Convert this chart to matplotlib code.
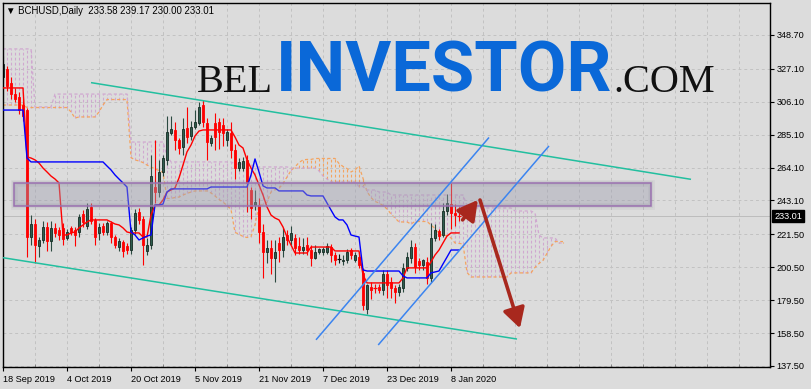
import matplotlib
matplotlib.use("Agg")
import matplotlib.pyplot as plt
import matplotlib.transforms as mtransforms
from matplotlib.patches import Rectangle

# ---------------- data (daily BCHUSD bars, 18 Sep 2019 .. 10 Jan 2020) ----------------
opens = [322, 327, 318, 311, 309, 304, 301, 220, 228, 214,
         218, 226, 217, 225.6, 224, 225.6, 219.2, 225.6, 224.3, 223,
         234.5, 226.8, 239, 230.7, 222.4, 227, 223, 228.7, 219.8, 213.5,
         216.6, 214, 211.5, 224, 235.5, 231, 211, 215, 251.7, 248.5,
         261, 269, 286, 288, 281.7, 277, 289.3, 284, 290, 292.6,
         304, 292.6, 280, 292.6, 293.2, 291.3, 281.7, 286.2, 275.3, 264,
         264, 269, 249.8, 240, 240.2, 223, 210.2, 212.8, 206.4, 216,
         211.5, 221, 218, 219.2, 214, 211.5, 214.7, 211.5, 206.4, 210.2,
         210, 210.2, 213.4, 208.3, 206, 204.5, 205.1, 211.5, 205.1, 207,
         196.6, 174, 188, 187.5, 188, 186, 196.2, 191, 187.5, 184.7,
         187.5, 200, 206.4, 213.4, 204.5, 201.9, 203.8, 193.7, 219.2, 223.6,
         221.1, 236.4, 240.9, 235, 233.58]
highs = [335, 329, 322, 315, 312, 308, 302, 234, 231, 220,
         230, 229.5, 230, 228.7, 226, 228.7, 225, 227, 226, 234.6,
         237, 241.8, 241.8, 232, 228.7, 229, 230, 230, 221, 219,
         218, 216, 226, 237.5, 238, 233, 219, 272, 282, 269,
         272, 297, 297, 293, 283, 296, 303, 294, 301, 306,
         307, 296, 285, 299, 296, 296, 289, 293, 279, 270,
         271, 272, 252, 250, 245, 228, 218, 218, 218, 220,
         225.6, 224, 227, 222, 220, 219, 220, 214.7, 214.7, 213,
         213.5, 216, 215.3, 210, 209, 208, 212, 213, 210, 210,
         200, 190, 191, 190, 190, 199, 199, 194, 189, 190,
         203, 210, 218, 216, 206.5, 206, 207, 228.7, 228, 225,
         241.2, 247, 254.3, 241, 239.17]
lows = [318, 313, 308, 306, 298, 294, 207, 215, 203, 207,
        216, 211, 211, 219.8, 218, 215, 218, 221, 214, 220,
        226, 225, 228, 215, 218, 221, 221, 216, 212.5, 211,
        207, 209, 209, 222, 228, 202, 208, 212, 241.5, 245.3,
        259, 266, 285, 275, 273, 272, 280, 282, 289, 291,
        290, 269, 278, 275, 276, 278, 278, 270, 257, 262,
        262, 236, 231, 237, 216, 193.4, 203, 196, 190.9, 204,
        207, 215, 215, 208, 209, 209, 208, 201, 206, 209,
        208.5, 209, 204, 202, 203, 202, 203, 206, 204, 200,
        173, 170.6, 180, 184, 184, 183, 181, 181, 178, 182,
        185, 198, 203, 197, 199, 199, 189.6, 190.9, 217, 218,
        220, 234, 225, 227, 230.00]
closes = [330, 316, 311, 308, 301, 297, 220, 228, 215, 218,
          226, 217, 225.6, 222.4, 221, 218.6, 223, 223, 221.1, 232.6,
          229.4, 237.7, 230, 219.8, 226.2, 223, 228.7, 219.8, 214.7, 217.5,
          211, 211.5, 224, 235, 230.5, 215, 215, 259, 248.5, 261.3,
          270.2, 286.8, 288.7, 281.7, 276.6, 288.7, 283.6, 290, 293.2, 302.8,
          293.2, 280.4, 283, 283.6, 286.8, 286.2, 286.8, 275.3, 264, 267.7,
          268.3, 254.3, 238.3, 242, 223, 210.2, 212.8, 206.4, 210.2, 211.5,
          219.8, 218, 222.4, 212.8, 211.5, 213.4, 211.5, 206.4, 210.2, 212.2,
          212, 214, 208.3, 205.1, 206, 205.2, 210.2, 208.3, 208.3, 202,
          176.2, 189, 186, 187, 186, 196.2, 189.2, 187, 184.7, 188,
          200, 207, 213.4, 200.5, 201.9, 205, 193.7, 219.2, 224.3, 220.5,
          236.4, 241.5, 235.2, 234, 233.01]

# Ichimoku lines (one value per bar)
tenkan = [314.9, 314.9, 314.9, 314.9, 314.9, 314.9, 270.9, 270.2, 269.0, 267.0,
          263.8, 261.3, 258.7, 256.8, 254.3, 221.1, 221.1, 222.4, 223.0, 225.6,
          227.5, 229.4, 230.7, 230.7, 230.7, 230.7, 230.7, 229.4, 228.1, 227.5,
          225.6, 223.0, 222.4, 222.4, 222.4, 219.8, 219.8, 233.8, 240.2, 240.2,
          243.4, 248.5, 249.8, 251.1, 257.5, 265.7, 274.1, 278.5, 284.3, 287.4,
          288.1, 288.1, 288.1, 288.1, 288.1, 288.1, 288.1, 288.1, 283.6, 278.5,
          276.6, 269.0, 263.8, 259.4, 253.0, 246.6, 239.0, 233.8, 231.9, 230.7,
          226.2, 219.8, 214.7, 209.6, 209.6, 209.6, 209.6, 213.4, 213.4, 213.4,
          213.4, 213.4, 213.4, 210.9, 210.9, 210.9, 210.9, 210.9, 210.9, 210.9,
          195.6, 190.5, 190.5, 190.5, 190.5, 190.5, 190.5, 190.5, 190.5, 190.5,
          193.7, 200.1, 200.1, 200.1, 200.1, 200.1, 200.1, 203.9, 208.3, 211.5,
          216.0, 220.4, 222.4, 222.4, 222.4]
kijun = [300.8, 300.8, 300.8, 300.8, 300.8, 300.8, 270.2, 267.7, 267.7, 267.7,
         267.7, 267.7, 267.7, 267.7, 267.7, 267.7, 267.7, 267.7, 267.7, 267.7,
         267.7, 267.7, 267.7, 267.7, 267.7, 267.7, 265.1, 262.6, 259.4, 256.8,
         254.3, 251.7, 223.0, 221.1, 217.9, 219.2, 220.4, 221.1, 240.2, 240.2,
         240.8, 248.5, 250.5, 250.5, 250.5, 250.5, 250.5, 250.5, 250.5, 250.5,
         250.5, 250.5, 251.7, 251.7, 251.7, 251.7, 251.7, 251.7, 251.7, 251.7,
         251.7, 251.7, 259.4, 269.6, 261.3, 252.4, 251.1, 251.1, 251.1, 249.2,
         249.2, 249.2, 249.2, 249.2, 249.2, 249.2, 246.6, 246.0, 246.0, 246.0,
         246.0, 241.5, 237.0, 232.6, 230.7, 230.7, 227.5, 221.1, 220.4, 219.8,
         198.8, 198.1, 198.1, 198.1, 198.1, 198.1, 198.1, 198.1, 198.1, 198.1,
         195.0, 193.7, 193.7, 193.7, 193.7, 193.7, 193.7, 196.9, 197.5, 198.1,
         202.6, 207.0, 211.5, 211.5, 211.5]
# Senkou spans (plotted 26 bars ahead, so 141 values)
span_a = [304.0, 304.0, 304.0, 304.0, 304.0, 304.0, 302.4, 302.4, 302.4, 302.4,
          302.4, 302.4, 302.4, 302.4, 302.4, 302.4, 302.4, 299.6, 295.7, 296.4,
          296.4, 296.4, 296.4, 296.4, 299.6, 304.0, 307.5, 307.5, 307.5, 307.5,
          307.5, 307.5, 270.5, 269.0, 268.3, 267.3, 265.7, 264.5, 263.2, 262.2,
          261.0, 244.4, 244.4, 245.0, 245.3, 246.6, 247.6, 248.5, 249.2, 249.2,
          249.2, 249.2, 247.9, 246.0, 243.7, 242.1, 239.9, 237.4, 222.7, 221.7,
          220.1, 219.5, 220.1, 227.5, 240.2, 240.2, 242.1, 248.5, 250.1, 250.8,
          253.9, 258.1, 262.2, 264.5, 267.3, 269.0, 269.3, 269.3, 269.9, 269.9,
          269.9, 269.9, 269.9, 269.9, 266.7, 264.8, 263.5, 261.3, 262.6, 265.1,
          257.3, 248.8, 245.0, 242.5, 241.5, 239.9, 237.7, 234.5, 231.9, 229.4,
          229.4, 229.4, 228.1, 229.7, 229.7, 229.7, 229.7, 227.5, 225.2, 221.7,
          220.8, 220.8, 219.2, 216.0, 215.7, 215.4, 197.2, 194.3, 194.3, 194.3,
          194.3, 194.3, 194.3, 194.3, 194.3, 194.3, 194.3, 196.9, 196.9, 196.9,
          196.9, 196.9, 196.9, 200.4, 202.9, 204.9, 209.3, 213.8, 216.9, 216.9,
          216.9]
span_b = [339.8, 339.8, 339.8, 339.8, 339.8, 339.8, 339.8, 339.8, 302.8, 302.8,
          302.8, 302.8, 302.8, 311.0, 311.0, 311.0, 311.0, 311.0, 311.0, 311.0,
          311.0, 311.0, 311.0, 311.0, 311.0, 311.0, 311.0, 311.0, 311.0, 311.0,
          311.0, 311.0, 280.4, 280.4, 280.4, 280.4, 280.4, 280.4, 280.4, 280.4,
          280.4, 271.5, 267.7, 267.7, 267.7, 267.7, 267.7, 267.7, 267.7, 267.7,
          267.7, 267.7, 267.7, 267.7, 267.7, 267.7, 267.7, 267.7, 266.4, 266.4,
          266.4, 266.4, 266.4, 264.5, 264.5, 264.5, 264.5, 264.5, 264.5, 264.5,
          264.5, 264.5, 263.8, 263.8, 263.8, 263.8, 263.8, 263.8, 263.8, 262.0,
          258.7, 256.8, 254.9, 254.9, 254.9, 254.9, 254.9, 254.9, 254.9, 252.0,
          252.0, 249.8, 249.8, 249.8, 248.5, 248.5, 248.5, 246.6, 246.6, 246.6,
          246.6, 246.6, 246.6, 246.6, 246.6, 246.6, 246.6, 246.6, 246.6, 246.6,
          246.6, 246.6, 246.6, 246.6, 246.6, 246.6, 240.0, 238.3, 238.3, 238.3,
          238.3, 238.3, 238.3, 238.3, 238.3, 238.3, 238.3, 238.3, 236.4, 236.4,
          236.4, 236.4, 236.4, 235.1, 221.0, 219.2, 219.2, 219.2, 219.2, 216.0,
          216.0]

date_label_bars = [0, 16, 32, 48, 64, 80, 96, 112]
date_labels = ["18 Sep 2019", "4 Oct 2019", "20 Oct 2019", "5 Nov 2019",
               "21 Nov 2019", "7 Dec 2019", "23 Dec 2019", "8 Jan 2020"]
price_ticks = [348.70, 327.10, 306.10, 285.10, 264.10, 243.10,
               221.50, 200.50, 179.50, 158.50, 137.50]
symbol = "BCHUSD,Daily"
last_price = 233.01

# drawn objects (bar index, price)
upper_trend = [(22.0, 318.3), (172.0, 256.6)]
lower_trend = [(-1.0, 207.0), (128.5, 154.7)]
channel_1 = [(78.25, 154.2), (121.5, 283.3)]
channel_2 = [(93.8, 150.9), (136.5, 277.9)]
zone_bars = (2.75, 162.0)
zone_prices = (239.6, 254.1)
arrow_up = [(114.9, 230.7), (118.7, 243.4)]
arrow_down = [(119.25, 243.4), (129.25, 161.6)]

# ---------------- figure ----------------
W, H = 811, 389
BG = "#dcdcdc"
fig = plt.figure(figsize=(W / 100, H / 100), dpi=100, facecolor=BG)
ax = fig.add_axes([3 / W, 1 - 367 / H, 767 / W, 364 / H])
ax.set_facecolor(BG)
ax.set_xlim(0, 191.75)
ax.set_ylim(136.86, 369.1)

for sp in ax.spines.values():
    sp.set_color("black")
    sp.set_linewidth(1.0)

# grid
grid_kw = dict(color="#c2c2c2", lw=0.7, ls=(0, (3, 3)), zorder=0.5)
for p in price_ticks:
    ax.axhline(p, **grid_kw)
for b in range(8, 192, 8):
    ax.axvline(b, **grid_kw)

# cloud hatch
n_span = len(span_a)
xs_span = list(range(n_span))
for t in xs_span:
    a, b = span_a[t], span_b[t]
    col = "#f4a460" if a >= b else "#d0a8d0"
    ax.vlines(t, min(a, b), max(a, b), colors=col, lw=0.8,
              linestyles=[(0, (2.5, 2))], zorder=1)
ax.plot(xs_span, span_a, color="#f4a460", lw=0.9, ls=(0, (2.5, 2)), zorder=1.5)
ax.plot(xs_span, span_b, color="#d0a8d0", lw=0.9, ls=(0, (2.5, 2)), zorder=1.5)

# bid line
ax.axhline(last_price, color="#bdbdbd", lw=0.7, zorder=1.6)

# candles
n = len(opens)
for i in range(n):
    o, h, l, c = opens[i], highs[i], lows[i], closes[i]
    if c > o:
        fc, ec, wc = "#2f5d4e", "#142a22", "#2b4a40"
    elif c < o:
        fc, ec, wc = "#ff0000", "#ff0000", "#ff0000"
    else:
        fc, ec, wc = "#111111", "#111111", "#111111"
    ax.vlines(i, l, h, colors=wc, lw=0.8, zorder=2)
    lo, hi = min(o, c), max(o, c)
    if hi - lo < 0.6:
        ax.hlines(lo, i - 0.38, i + 0.38, colors=ec, lw=0.9, zorder=2.1)
    else:
        ax.add_patch(Rectangle((i - 0.36, lo), 0.72, hi - lo, facecolor=fc,
                               edgecolor=ec, lw=0.6, zorder=2.1))

# tenkan / kijun
bars = list(range(n))
ax.plot(bars, tenkan, color="#ff0000", lw=1.0, zorder=3)
ax.plot(bars, kijun, color="#0000ff", lw=1.0, zorder=3)

# zone rectangle (with a soft shadow)
zx, zw = zone_bars[0], zone_bars[1] - zone_bars[0]
zy, zh = zone_prices[0], zone_prices[1] - zone_prices[0]
for lw_s, al in [(5.0, 0.06), (3.0, 0.08)]:
    ax.add_patch(Rectangle((zx, zy), zw, zh, facecolor="none",
                           edgecolor="#606070", alpha=al, lw=lw_s, zorder=3.9))
ax.add_patch(Rectangle((zx, zy), zw, zh, facecolor="#9e9eb0",
                       alpha=0.42, edgecolor="none", zorder=4))
ax.add_patch(Rectangle((zx, zy), zw, zh, facecolor="none",
                       edgecolor="#9a70b0", lw=1.1, zorder=4.1))

# trend lines
teal = "#22bf9f"
for seg, col in [(upper_trend, teal), (lower_trend, teal),
                 (channel_1, "#3b84f0"), (channel_2, "#3b84f0")]:
    ax.plot([seg[0][0], seg[1][0]], [seg[0][1], seg[1][1]], color=col,
            lw=1.1, zorder=5, solid_capstyle="butt")

# arrows
arrow_col = "#a8281e"
for seg in (arrow_up, arrow_down):
    ax.annotate("", xy=seg[1], xytext=seg[0],
                arrowprops=dict(arrowstyle="-|>,head_length=0.75,head_width=0.42",
                                color=arrow_col, lw=2.6, mutation_scale=16,
                                shrinkA=0, shrinkB=0), zorder=6)

# axes ticks
ax.yaxis.tick_right()
ax.set_yticks(price_ticks)
ax.set_yticklabels([f"{p:.2f}" for p in price_ticks], family="Liberation Sans",
                   fontsize=6.6)
ax.set_xticks(date_label_bars)
ax.set_xticklabels(date_labels, family="Liberation Sans", fontsize=6.6, ha="left")
ax.set_xticks(list(range(8, 192, 8)), minor=True)
ax.tick_params(axis="y", which="major", direction="out", length=3, width=0.8,
               pad=1.5, colors="black")
ax.tick_params(axis="x", which="major", direction="out", length=3, width=0.8,
               pad=2.5, colors="black")
ax.tick_params(axis="x", which="minor", direction="in", length=2, width=0.6,
               colors="#777777")

# last price tag
trans = mtransforms.blended_transform_factory(ax.transAxes, ax.transData)
ax.text(1 + 4 / 767, last_price, f"{last_price:.2f}", transform=trans,
        ha="left", va="center", color="white", fontsize=6.6,
        family="Liberation Sans",
        bbox=dict(boxstyle="square,pad=0.18", fc="black", ec="black"),
        zorder=10, clip_on=False)

# title
fig.text(6 / W, 1 - 11 / H,
         f"\u25bc {symbol}  {opens[-1]:.2f} {highs[-1]:.2f} {lows[-1]:.2f} {closes[-1]:.2f}",
         ha="left", va="center", fontsize=6.9,
         family=["Liberation Sans", "DejaVu Sans"], color="black")

# logo
base_y = 1 - 92 / H
t_inv = fig.text(276 / W, base_y, "INVESTOR", ha="left", va="baseline",
                 family="Roboto", weight="bold", fontsize=50, color="#0a68d8",
                 zorder=20)
renderer = fig.canvas.get_renderer()
w = t_inv.get_window_extent(renderer).width
t_inv.set_fontsize(50 * 336 / w)
ext = t_inv.get_window_extent(renderer)
fig.text((ext.x0 - 3) / W, base_y, "BEL", ha="right", va="baseline",
         family="Liberation Serif", fontsize=29, color="#111111", zorder=20)
fig.text((ext.x1 + 1) / W, base_y, ".COM", ha="left", va="baseline",
         family="Liberation Serif", fontsize=29, color="#111111", zorder=20)

fig.savefig("out.png", dpi=100, facecolor=BG)
